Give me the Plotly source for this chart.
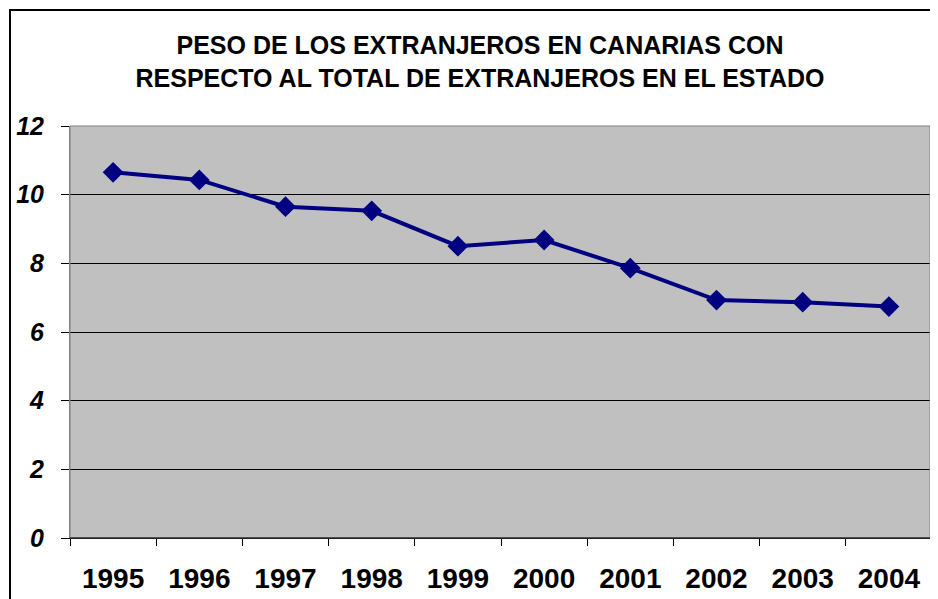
import plotly.graph_objects as go

years = ["1995", "1996", "1997", "1998", "1999", "2000", "2001", "2002", "2003", "2004"]
peso = [10.65, 10.43, 9.65, 9.53, 8.50, 8.68, 7.86, 6.93, 6.87, 6.74]
y_ticks = [0, 2, 4, 6, 8, 10, 12]

# page offset (browser body margin) compensation
OFF = 8
W, H = 938 - OFF, 599 - OFF
L, R, T, B = 70 - OFF, 932 - OFF, 126 - OFF, 538 - OFF

fig = go.Figure()
fig.add_trace(go.Scatter(
    x=years, y=peso, mode="lines+markers",
    line=dict(color="#000080", width=4),
    marker=dict(symbol="diamond", size=16, color="#000080"),
    showlegend=False,
))

pw, ph = R - L, B - T
def px(x):
    return (x - OFF - L) / pw
def py(y):
    return (B - (y - OFF)) / ph

FONT = "Liberation Sans, Arial, sans-serif"

fig.update_layout(
    width=W, height=H,
    margin=dict(l=L, r=W - R, t=T, b=H - B, pad=0),
    paper_bgcolor="white",
    plot_bgcolor="#C0C0C0",
    font=dict(family=FONT, color="black"),
    title=dict(
        text="<b>PESO DE LOS EXTRANJEROS EN CANARIAS CON<br>RESPECTO AL TOTAL DE EXTRANJEROS EN EL ESTADO</b>",
        x=(480 - OFF) / W, xanchor="center", xref="container",
        y=1 - 46 / H, yanchor="middle", yref="container",
        font=dict(size=25, family=FONT, color="black"),
    ),
    xaxis=dict(
        type="category", tickson="boundaries",
        ticks="outside", ticklen=7, tickcolor="black", tickwidth=1,
        showline=True, linecolor="black", linewidth=1,
        showgrid=False, zeroline=False,
        tickfont=dict(size=28, family=FONT, color="black", weight="bold"),
        ticklabelstandoff=15,
        range=[-0.5, 9.5],
    ),
    yaxis=dict(
        range=[0, 12], tickvals=y_ticks, ticktext=[f"<b><i>{v}</i></b>" for v in y_ticks],
        ticks="outside", ticklen=8, tickcolor="black", tickwidth=1,
        showline=True, linecolor="#808080", linewidth=1,
        showgrid=True, gridcolor="black", gridwidth=1,
        zeroline=False,
        tickfont=dict(size=25, family=FONT, color="black"),
        ticklabelstandoff=12,
    ),
    shapes=[
        dict(type="rect", xref="paper", yref="paper", x0=0, x1=1, y0=0, y1=1,
             line=dict(color="#808080", width=1), layer="above"),
        dict(type="line", xref="paper", yref="paper", x0=px(931), x1=px(931), y0=py(538), y1=py(126),
             line=dict(color="#808080", width=3), layer="above"),
        dict(type="line", xref="paper", yref="paper", x0=0, x1=1, y0=0, y1=0,
             line=dict(color="black", width=1), layer="above"),
        dict(type="rect", xref="paper", yref="paper", x0=px(10), x1=px(945), y0=py(610), y1=py(10),
             line=dict(color="black", width=2), layer="above"),
    ],
)

fig.write_html("out.html")
